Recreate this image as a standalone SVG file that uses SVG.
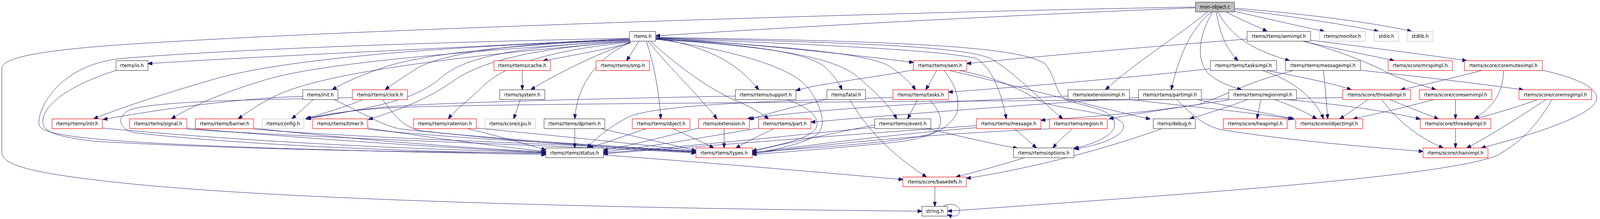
<svg xmlns="http://www.w3.org/2000/svg" width="4407" height="561" viewBox="0 0 4407 561" preserveAspectRatio="none">
<style>
svg:root{width:100vw;height:100vh;display:block}
.e{fill:none;stroke:#191970;stroke-width:1;marker-end:url(#ah)}
.n rect{fill:#fff;stroke-width:1.2}
.b rect{stroke:#404040}
.r rect{stroke:#ff0000}
.g rect{stroke:#bfbfbf}
.f rect{fill:#bfbfbf;stroke:#404040}
.n text{font-family:"DejaVu Sans","Liberation Sans",sans-serif;font-size:12.75px;text-anchor:middle;fill:#000}
</style>
<defs>
<marker id="ah" viewBox="0 0 13 9.4" refX="12" refY="4.7" markerWidth="13" markerHeight="9.4" markerUnits="userSpaceOnUse" orient="auto">
<path d="M0,0 L13,4.7 L0,9.4 z" fill="#191970" stroke="#191970" stroke-width="1"/>
</marker>
</defs>
<rect width="4407" height="561" fill="#fff"/>
<g id="edges">
<path class="e" d="M3293,20 C2800,38 2200,68 1806,92"/>
<path class="e" d="M3293,18 C2500,30 1200,70 600,100 C300,115 5,130 5,175 L5,390 C5,425 100,445 330,468 C800,515 1800,535 2539.5,541"/>
<path class="e" d="M3378,31 C3420,52 3460,66 3490,80.5"/>
<path class="e" d="M3400,29 C3480,46 3580,67 3648,80.5"/>
<path class="e" d="M3400,24 C3530,38 3700,62 3797,80.5"/>
<path class="e" d="M3400,21 C3560,32 3790,58 3888,80.5"/>
<path class="e" d="M3350,31 C3358,75 3372,120 3410,155.5"/>
<path class="e" d="M3355,31 C3390,90 3440,125 3552,155.5"/>
<path class="e" d="M3326,31 C3240,95 3120,165 3045,230"/>
<path class="e" d="M3337,31 C3280,70 3245,150 3226,230"/>
<path class="e" d="M3340,31 C3305,85 3290,150 3330,190 C3355,210 3390,222 3420,230"/>
<path class="e" d="M3435,100 C3100,125 2850,145 2663,163"/>
<path class="e" d="M3588,105.5 C3680,125 3780,143 3840,155.5"/>
<path class="e" d="M3592,105.5 C3700,135 3770,160 3830,190 C3880,210 3930,222 3955,230"/>
<path class="e" d="M3610,103 C3800,125 3950,143 4040,155.5"/>
<path class="e" d="M3334,176 C3100,200 2850,220 2612.5,236"/>
<path class="e" d="M3477,180.5 C3560,205 3620,250 3646,304.5"/>
<path class="e" d="M3488,180.5 C3600,200 3680,216 3722,230"/>
<path class="e" d="M3563,180.5 C3420,215 3390,240 3300,268 C3100,295 2950,302 2867,308"/>
<path class="e" d="M3645,180.5 C3650,220 3654,265 3657,304.5"/>
<path class="e" d="M3747,180 C3950,200 4100,218 4196,230"/>
<path class="e" d="M4082,180.5 C4000,200 3920,218 3858,230"/>
<path class="e" d="M4141,180.5 C4141,240 4110,275 4061,304.5"/>
<path class="e" d="M4248.5,180 C4345,200 4402,225 4398,255 C4385,300 4200,350 4080,379"/>
<path class="e" d="M3768,255 C3745,270 3715,290 3690,304.5"/>
<path class="e" d="M3806,255 C3840,300 3900,350 3975,379"/>
<path class="e" d="M3828,255 C3880,275 3930,293 3962,304.5"/>
<path class="e" d="M3698.5,250 C3000,260 1500,262 1100,275 C980,280 900,292 842,304.5"/>
<path class="e" d="M3950,255 C3870,275 3790,292 3727,304.5"/>
<path class="e" d="M4009,255 L4009,304.5"/>
<path class="e" d="M4236,255 C4170,277 4110,293 4062,304.5"/>
<path class="e" d="M4259,255 C4200,290 4120,340 4040,379"/>
<path class="e" d="M4275,255 C4240,310 4200,360 4120,400 C3950,455 3300,495 2610,541"/>
<path class="e" d="M4009,329.5 L4009,379"/>
<path class="e" d="M3384.5,256 C3250,275 3120,292 3055,304.5"/>
<path class="e" d="M3437,255 C3380,275 3320,292 3277,304.5"/>
<path class="e" d="M3473,255 L3462,304.5"/>
<path class="e" d="M3510,255 C3560,270 3600,290 3627,304.5"/>
<path class="e" d="M3540,255 C3700,268 3820,285 3912,305"/>
<path class="e" d="M3136,250 C2800,270 2450,295 2233.5,313"/>
<path class="e" d="M3297,255 C3400,275 3500,292 3565,305"/>
<path class="e" d="M3241,255 C3290,300 3320,325 3370,333 C3550,360 3750,375 3919.5,388"/>
<path class="e" d="M2941.5,246 C2500,265 2200,285 2058,304.5"/>
<path class="e" d="M3111,255 C3300,275 3480,292 3560,305"/>
<path class="e" d="M3200,329.5 C3050,380 2850,430 2662,457"/>
<path class="e" d="M2822,404 C2750,425 2680,442 2633,453.5"/>
<path class="e" d="M2340,255 C2400,350 2480,410 2552,453.5"/>
<path class="e" d="M1662,397 C2000,420 2300,445 2487,460"/>
<path class="e" d="M2575,478.5 L2575,528.5"/>
<path class="e" d="M2598,528.5 C2622,516 2645,528 2643,542 C2641,555 2625,556 2610,550"/>
<path class="e" d="M319.5,180.5 C200,215 120,265 118,310 C117,340 160,350 260,362 C700,385 1200,390 1503.5,392"/>
<path class="e" d="M1734,98 C1300,106 700,122 330,150 C150,170 100,290 108,320 C112,350 300,365 740,379 C1000,387 1300,393 1503.5,396"/>
<path class="e" d="M1734,99 C1200,125 700,145 407.5,163"/>
<path class="e" d="M1735,102 C1200,120 800,150 600,200 C450,240 320,280 258,304.5"/>
<path class="e" d="M1735,104 C1300,130 900,160 740,202 C620,235 530,270 472,304.5"/>
<path class="e" d="M1736,106 C1300,140 950,180 800,230 C740,250 700,275 656,304.5"/>
<path class="e" d="M1735,104 C1400,120 1280,150 1220,195 C1160,245 1080,270 842,304.5"/>
<path class="e" d="M1736,106 C1450,125 1330,160 1260,200 C1200,240 1140,270 1015,306"/>
<path class="e" d="M1737,108 C1500,130 1380,170 1320,230 C1280,265 1250,285 1235,304.5"/>
<path class="e" d="M1735,102 C1400,115 1150,140 1050,175 C990,195 950,210 915,230"/>
<path class="e" d="M1735,101 C1400,110 1200,140 1140,180 C1100,205 1080,215 1061,230"/>
<path class="e" d="M1736,108 C1640,140 1530,190 1462,230"/>
<path class="e" d="M1738,110 C1650,130 1560,145 1496,155.5"/>
<path class="e" d="M1760,105.5 L1726,155.5"/>
<path class="e" d="M1737,108 C1640,150 1590,220 1583,304.5"/>
<path class="e" d="M1780,105.5 C1800,160 1815,230 1820,304.5"/>
<path class="e" d="M1785,105.5 C1850,180 1920,240 1975,304.5"/>
<path class="e" d="M1791,105.5 C1880,180 1960,230 2020,255 C2060,270 2090,285 2117,304.5"/>
<path class="e" d="M1806,97 C1950,120 2030,160 2090,230"/>
<path class="e" d="M1806,99 C2200,120 2400,140 2450,170 C2490,195 2510,215 2522,230"/>
<path class="e" d="M1806,96 C2100,115 2350,140 2516,160"/>
<path class="e" d="M1806,100 C2100,115 2230,140 2270,170 C2295,190 2310,210 2319,230"/>
<path class="e" d="M1806,101 C2150,120 2300,150 2360,195 C2410,235 2450,270 2470,304.5"/>
<path class="e" d="M1806,98 C2300,115 2600,130 2690,150 C2740,180 2760,250 2772,304.5"/>
<path class="e" d="M1806,97 C2400,110 2650,120 2730,150 C2800,190 2870,260 2927,304.5"/>
<path class="e" d="M1806,96 C2500,105 2820,120 2880,165 C2910,200 2905,240 2940,258 C3000,275 3070,280 3070,320 C3070,350 3000,372 2958,380"/>
<path class="e" d="M1806,100 C2100,140 2200,190 2230,230 C2260,270 2280,320 2250,345 C2210,370 2130,385 2072,392"/>
<path class="e" d="M2640,180.5 C2760,200 2830,240 2870,262 C2950,285 3100,290 3095,325 C3090,355 3010,375 2960,382"/>
<path class="e" d="M2516,179 C2400,200 2250,215 2192.5,232"/>
<path class="e" d="M2580,180.5 L2550,230"/>
<path class="e" d="M2600,180.5 C2635,220 2645,260 2635,290 C2615,330 2560,355 2460,365 C2300,380 2150,390 2072,396"/>
<path class="e" d="M2615,180.5 C2800,220 3000,270 3168,305"/>
<path class="e" d="M2527,255 L2500,304.5"/>
<path class="e" d="M2560,255 C2595,290 2600,320 2575,338 C2530,360 2300,375 2072,390"/>
<path class="e" d="M2459.5,250 C2100,258 1800,270 1730,300 C1680,325 1645,350 1617,379"/>
<path class="e" d="M2277.5,254 C2180,275 2110,292 2064.5,306"/>
<path class="e" d="M2025.5,246 C1700,252 1200,262 1050,275 C960,285 900,292 845,304.5"/>
<path class="e" d="M2167,255 C2230,275 2255,300 2250,322 C2245,345 2200,362 2072,386"/>
<path class="e" d="M1433,255 L1415,304.5"/>
<path class="e" d="M1438.5,180.5 L1438.5,230"/>
<path class="e" d="M863,255 L804,304.5"/>
<path class="e" d="M834,247 C700,250 500,270 284,306"/>
<path class="e" d="M920,255 C1000,290 1050,320 1100,330 C1400,360 1700,375 1917,388"/>
<path class="e" d="M1000,255 C950,275 890,290 842,304.5"/>
<path class="e" d="M970.5,250 C700,256 400,258 350,285 C320,305 330,330 370,340 C700,375 1200,390 1503.5,393"/>
<path class="e" d="M1054,255 C1090,300 1110,325 1160,335 C1450,365 1700,380 1917,390"/>
<path class="e" d="M282,328 C700,365 1200,385 1503.5,390"/>
<path class="e" d="M514.5,328 C900,360 1300,382 1503.5,391"/>
<path class="e" d="M514.5,331 C1000,360 1500,370 1917,392"/>
<path class="e" d="M698.5,328 C1000,360 1300,380 1503.5,389"/>
<path class="e" d="M698.5,331 C1100,360 1600,368 1917,390"/>
<path class="e" d="M1013,328 C1200,355 1400,378 1503.5,388"/>
<path class="e" d="M1013,331 C1300,360 1700,372 1917,389"/>
<path class="e" d="M1287,329.5 C1380,350 1450,370 1503.5,384"/>
<path class="e" d="M1312,328 C1500,345 1750,368 1917,387"/>
<path class="e" d="M1583,329.5 L1583,379"/>
<path class="e" d="M1655,329.5 C1750,350 1850,370 1917,386"/>
<path class="e" d="M1780,329.5 C1730,345 1670,365 1622,379"/>
<path class="e" d="M1853,329.5 C1890,345 1930,362 1966,379"/>
<path class="e" d="M1924.5,328 C1830,350 1750,370 1662,385"/>
<path class="e" d="M1994.5,329.5 L1994.5,379"/>
<path class="e" d="M2090,328 C1950,350 1800,375 1662,389"/>
<path class="e" d="M2131,329.5 C2090,348 2060,362 2027,379"/>
<path class="e" d="M2409.5,326 C2200,345 1900,375 1662,392"/>
<path class="e" d="M2409.5,320 C2300,340 2150,370 2072,388"/>
<path class="e" d="M2553,329.5 C2650,350 2740,370 2803,380"/>
<path class="e" d="M2689.5,322 C2400,340 2000,370 1662,394"/>
<path class="e" d="M2689.5,327 C2450,345 2200,375 2072,392"/>
<path class="e" d="M2795,330 C2820,350 2838,365 2855,379"/>
<path class="e" d="M2891,330 C2500,345 2200,378 2072,394"/>
<path class="e" d="M2953,330 C2935,345 2915,362 2900,379"/>
</g>
<g id="n_monobj" class="n f"><rect x="3293" y="5.5" width="107" height="25"/><text x="3346.5" y="22.5">mon-object.c</text></g>
<g id="n_rtems_h" class="n b"><rect x="1734" y="80.5" width="72" height="25"/><text x="1770" y="97.5">rtems.h</text></g>
<g id="n_semimpl" class="n b"><rect x="3435" y="80.5" width="175" height="25"/><text x="3522.5" y="97.5">rtems/rtems/semimpl.h</text></g>
<g id="n_monitor" class="n g"><rect x="3634" y="80.5" width="127" height="25"/><text x="3697.5" y="97.5">rtems/monitor.h</text></g>
<g id="n_stdio" class="n g"><rect x="3785" y="80.5" width="67" height="25"/><text x="3818.5" y="97.5">stdio.h</text></g>
<g id="n_stdlib" class="n g"><rect x="3876" y="80.5" width="71" height="25"/><text x="3911.5" y="97.5">stdlib.h</text></g>
<g id="n_io" class="n b"><rect x="319.5" y="155.5" width="88" height="25"/><text x="363.5" y="172.5">rtems/io.h</text></g>
<g id="n_cache" class="n r"><rect x="1360.5" y="155.5" width="156" height="25"/><text x="1438.5" y="172.5">rtems/rtems/cache.h</text></g>
<g id="n_smp" class="n r"><rect x="1642" y="155.5" width="147" height="25"/><text x="1715.5" y="172.5">rtems/rtems/smp.h</text></g>
<g id="n_sem" class="n r"><rect x="2516" y="155.5" width="147" height="25"/><text x="2589.5" y="172.5">rtems/rtems/sem.h</text></g>
<g id="n_tasksimpl" class="n b"><rect x="3334" y="155.5" width="182.5" height="25"/><text x="3425.25" y="172.5">rtems/rtems/tasksimpl.h</text></g>
<g id="n_messageimpl" class="n b"><rect x="3540.5" y="155.5" width="206.5" height="25"/><text x="3643.75" y="172.5">rtems/rtems/messageimpl.h</text></g>
<g id="n_mrspimpl" class="n r"><rect x="3823.5" y="155.5" width="177" height="25"/><text x="3912" y="172.5">rtems/score/mrspimpl.h</text></g>
<g id="n_coremuteximpl" class="n r"><rect x="4033.5" y="155.5" width="215" height="25"/><text x="4141" y="172.5">rtems/score/coremuteximpl.h</text></g>
<g id="n_init" class="n b"><rect x="834" y="230" width="97" height="25"/><text x="882.5" y="247">rtems/init.h</text></g>
<g id="n_clock" class="n r"><rect x="970.5" y="230" width="152" height="25"/><text x="1046.5" y="247">rtems/rtems/clock.h</text></g>
<g id="n_system" class="n b"><rect x="1376.5" y="230" width="124" height="25"/><text x="1438.5" y="247">rtems/system.h</text></g>
<g id="n_support" class="n b"><rect x="2025.5" y="230" width="167" height="25"/><text x="2109" y="247">rtems/rtems/support.h</text></g>
<g id="n_fatal" class="n b"><rect x="2277.5" y="230" width="106.5" height="25"/><text x="2330.75" y="247">rtems/fatal.h</text></g>
<g id="n_tasks" class="n r"><rect x="2459.5" y="230" width="153" height="25"/><text x="2536" y="247">rtems/rtems/tasks.h</text></g>
<g id="n_extensionimpl" class="n b"><rect x="2941.5" y="230" width="169.5" height="25"/><text x="3026.25" y="247">rtems/extensionimpl.h</text></g>
<g id="n_partimpl" class="n b"><rect x="3136" y="230" width="173" height="25"/><text x="3222.5" y="247">rtems/rtems/partimpl.h</text></g>
<g id="n_regionimpl" class="n b"><rect x="3384.5" y="230" width="186.5" height="25"/><text x="3477.75" y="247">rtems/rtems/regionimpl.h</text></g>
<g id="n_threadimpl" class="n r"><rect x="3698.5" y="230" width="187" height="25"/><text x="3792" y="247">rtems/score/threadimpl.h</text></g>
<g id="n_coresemimpl" class="n r"><rect x="3909.5" y="230" width="199.5" height="25"/><text x="4009.25" y="247">rtems/score/coresemimpl.h</text></g>
<g id="n_coremsgimpl" class="n r"><rect x="4184" y="230" width="200" height="25"/><text x="4284" y="247">rtems/score/coremsgimpl.h</text></g>
<g id="n_intr" class="n r"><rect x="143.5" y="304.5" width="138.5" height="25"/><text x="212.75" y="321.5">rtems/rtems/intr.h</text></g>
<g id="n_signal" class="n r"><rect x="357" y="304.5" width="157.5" height="25"/><text x="435.75" y="321.5">rtems/rtems/signal.h</text></g>
<g id="n_barrier" class="n r"><rect x="538.5" y="304.5" width="160" height="25"/><text x="618.5" y="321.5">rtems/rtems/barrier.h</text></g>
<g id="n_config" class="n g"><rect x="722.5" y="304.5" width="114.5" height="25"/><text x="779.75" y="321.5">rtems/config.h</text></g>
<g id="n_timer" class="n r"><rect x="861.5" y="304.5" width="151.5" height="25"/><text x="937.25" y="321.5">rtems/rtems/timer.h</text></g>
<g id="n_ratemon" class="n r"><rect x="1139" y="304.5" width="173" height="25"/><text x="1225.5" y="321.5">rtems/rtems/ratemon.h</text></g>
<g id="n_cpu" class="n g"><rect x="1336" y="304.5" width="138.5" height="25"/><text x="1405.25" y="321.5">rtems/score/cpu.h</text></g>
<g id="n_dpmem" class="n b"><rect x="1498.5" y="304.5" width="167.5" height="25"/><text x="1582.25" y="321.5">rtems/rtems/dpmem.h</text></g>
<g id="n_object" class="n r"><rect x="1741.5" y="304.5" width="159" height="25"/><text x="1821" y="321.5">rtems/rtems/object.h</text></g>
<g id="n_extension" class="n r"><rect x="1924.5" y="304.5" width="140" height="25"/><text x="1994.5" y="321.5">rtems/extension.h</text></g>
<g id="n_part" class="n r"><rect x="2089.5" y="304.5" width="144" height="25"/><text x="2161.5" y="321.5">rtems/rtems/part.h</text></g>
<g id="n_event" class="n b"><rect x="2409.5" y="304.5" width="154.5" height="25"/><text x="2486.75" y="321.5">rtems/rtems/event.h</text></g>
<g id="n_message" class="n r"><rect x="2689.5" y="304.5" width="177.5" height="25"/><text x="2778.25" y="321.5">rtems/rtems/message.h</text></g>
<g id="n_region" class="n r"><rect x="2891" y="304.5" width="159" height="25"/><text x="2970.5" y="321.5">rtems/rtems/region.h</text></g>
<g id="n_debug" class="n b"><rect x="3176.5" y="304.5" width="116" height="25"/><text x="3234.5" y="321.5">rtems/debug.h</text></g>
<g id="n_heapimpl" class="n r"><rect x="3369.5" y="304.5" width="176" height="25"/><text x="3457.5" y="321.5">rtems/score/heapimpl.h</text></g>
<g id="n_objectimpl" class="n r"><rect x="3569" y="304.5" width="184.5" height="25"/><text x="3661.25" y="321.5">rtems/score/objectimpl.h</text></g>
<g id="n_threadqimpl" class="n r"><rect x="3912" y="304.5" width="194.5" height="25"/><text x="4009.25" y="321.5">rtems/score/threadqimpl.h</text></g>
<g id="n_status" class="n b"><rect x="1503.5" y="379" width="158.5" height="25"/><text x="1582.75" y="396">rtems/rtems/status.h</text></g>
<g id="n_types" class="n r"><rect x="1917" y="379" width="155" height="25"/><text x="1994.5" y="396">rtems/rtems/types.h</text></g>
<g id="n_options" class="n b"><rect x="2791.5" y="379" width="166.5" height="25"/><text x="2874.75" y="396">rtems/rtems/options.h</text></g>
<g id="n_chainimpl" class="n r"><rect x="3919.5" y="379" width="179" height="25"/><text x="4009" y="396">rtems/score/chainimpl.h</text></g>
<g id="n_basedefs" class="n r"><rect x="2487" y="453.5" width="175" height="25"/><text x="2574.5" y="470.5">rtems/score/basedefs.h</text></g>
<g id="n_string" class="n b"><rect x="2539.5" y="528.5" width="70.5" height="25"/><text x="2574.75" y="545.5">string.h</text></g>
</svg>
